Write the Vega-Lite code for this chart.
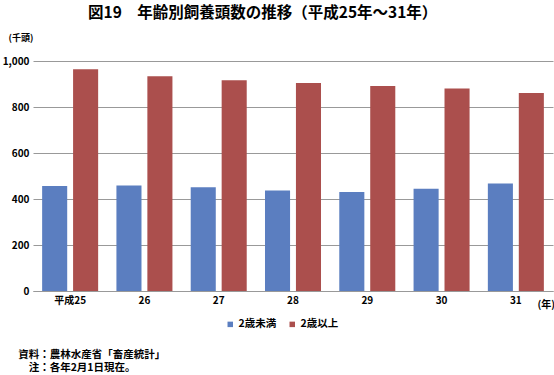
{
  "$schema": "https://vega.github.io/schema/vega-lite/v6.json",
  "padding": {"left": 2, "top": 5, "right": 0, "bottom": 0},
  "background": "white",
  "config": {
    "font": "Noto Sans CJK JP",
    "view": {"stroke": null},
    "concat": {"spacing": 0}
  },
  "title": {
    "text": ["資料：農林水産省「畜産統計」", "\u200b　注：各年2月1日現在。"],
    "orient": "bottom",
    "anchor": "start",
    "frame": "bounds",
    "dx": 16,
    "fontSize": 10.5,
    "fontWeight": "bold",
    "lineHeight": 13,
    "offset": 20,
    "color": "#000000"
  },
  "vconcat": [
    {
      "title": {
        "text": "図19　年齢別飼養頭数の推移（平成25年～31年）",
        "anchor": "start",
        "frame": "group",
        "dx": 55,
        "fontSize": 15.5,
        "fontWeight": "bold",
        "offset": 12,
        "color": "#000000"
      },
      "width": 520,
      "height": 230,
      "data": {
        "values": [
          {"year": "平成25", "age": "2歳未満", "value": 456},
          {"year": "平成25", "age": "2歳以上", "value": 964},
          {"year": "26", "age": "2歳未満", "value": 459},
          {"year": "26", "age": "2歳以上", "value": 934},
          {"year": "27", "age": "2歳未満", "value": 451},
          {"year": "27", "age": "2歳以上", "value": 916},
          {"year": "28", "age": "2歳未満", "value": 437},
          {"year": "28", "age": "2歳以上", "value": 904},
          {"year": "29", "age": "2歳未満", "value": 430},
          {"year": "29", "age": "2歳以上", "value": 891},
          {"year": "30", "age": "2歳未満", "value": 445},
          {"year": "30", "age": "2歳以上", "value": 880},
          {"year": "31", "age": "2歳未満", "value": 467},
          {"year": "31", "age": "2歳以上", "value": 861}
        ]
      },
      "mark": {"type": "bar"},
      "encoding": {
        "x": {
          "field": "year",
          "type": "nominal",
          "sort": null,
          "scale": {"paddingInner": 0.246, "paddingOuter": 0.123},
          "axis": {
            "title": "(年)",
            "titleX": 504,
            "titleY": 13,
            "titleAlign": "left",
            "titleBaseline": "middle",
            "titleFontSize": 10,
            "titleFontWeight": "bold",
            "labelAngle": 0,
            "labelFontSize": 10,
            "labelFontWeight": "bold",
            "labelPadding": 4,
            "labelColor": "#000000",
            "ticks": false,
            "domainColor": "#999999",
            "grid": false
          }
        },
        "xOffset": {
          "field": "age",
          "sort": null,
          "scale": {"paddingInner": 0.19, "paddingOuter": 0}
        },
        "y": {
          "field": "value",
          "type": "quantitative",
          "scale": {"domain": [0, 1000]},
          "axis": {
            "title": "(千頭)",
            "titleAngle": 0,
            "titleX": -25,
            "titleY": -24,
            "titleAlign": "left",
            "titleBaseline": "middle",
            "titleFontSize": 9,
            "titleFontWeight": "bold",
            "values": [0, 200, 400, 600, 800, 1000],
            "format": ",d",
            "labelFontSize": 10,
            "labelFontWeight": "bold",
            "labelColor": "#000000",
            "labelPadding": 4,
            "ticks": false,
            "domain": false,
            "gridColor": "#999999"
          }
        },
        "color": {
          "field": "age",
          "type": "nominal",
          "sort": null,
          "scale": {"domain": ["2歳未満", "2歳以上"], "range": ["#5b7ec0", "#ab4f4d"]},
          "legend": {
            "title": null,
            "orient": "none",
            "direction": "horizontal",
            "legendX": 192,
            "legendY": 258,
            "symbolType": "square",
            "symbolSize": 30,
            "symbolStrokeWidth": 0,
            "labelFontSize": 10.5,
            "labelFontWeight": "bold",
            "labelColor": "#000000",
            "labelOffset": 3,
            "columnPadding": 10
          }
        }
      }
    }
  ]
}
